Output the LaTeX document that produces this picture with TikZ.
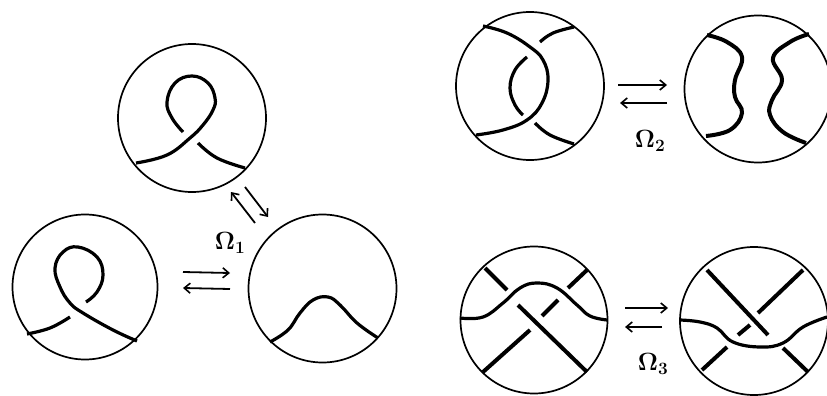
\documentclass[tikz,border=0pt]{standalone}
\usetikzlibrary{arrows.meta}

\begin{document}
\begin{tikzpicture}[
  x=1pt,y=-1pt,
  >={Straight Barb[length=6pt,width=10pt,line width=1.6pt]},
  disc/.style={circle,draw,line width=1.7pt,inner sep=0pt},
  strand/.style={line width=4pt,smooth,tension=0.7},
  thin strand/.style={line width=3.2pt,smooth,tension=0.7},
  arr/.style={->,line width=1.8pt},
  move/.style={font=\fontsize{24}{24}\selectfont\boldmath,inner sep=0pt},
]
\useasboundingbox (0,0) rectangle (827,396);

% move one
\node[disc,minimum size=148pt] (loopa) at (192,118) {};
\node[disc,minimum size=145pt] (loopb) at (85,287) {};
\node[disc,minimum size=148pt] (bump) at (322.5,288.5) {};
\draw[thin strand] plot coordinates {(136,163) (167,155) (190,138) (203,125) (213,110) (215,98) (208,83) (192,76) (175,83) (167,102) (172,118) (183,132)};
\draw[thin strand] plot coordinates {(198,143) (217,158) (245,168)};
\draw[thin strand] plot coordinates {(27,334) (50,328) (70,317)};
\draw[thin strand] plot coordinates {(137,341) (113,330) (83,313) (70,303) (60,287) (55,268) (63,252) (78,247) (97,257) (103,275) (97,292) (86,302)};
\draw[thin strand] plot coordinates {(270,342) (288,330) (300,313) (313,300) (328,297) (340,305) (357,323) (378,338)};

% move two
\node[disc,minimum size=148pt] (claspa) at (530,86) {};
\node[disc,minimum size=147pt] (claspb) at (758,89) {};
\draw[thin strand] plot coordinates {(483,26) (507,33) (530,47) (543,60) (548,80) (542,103) (527,120) (503,130) (476,135)};
\draw[thin strand] plot coordinates {(540,42) (553,33) (574,27)};
\draw[thin strand] plot coordinates {(527,57) (515,70) (510,88) (515,105) (523,115)};
\draw[thin strand] plot coordinates {(535,123) (550,135) (574,144)};
\draw[strand] plot coordinates {(707,35) (727,42) (742,57) (735,80) (735,97) (742,113) (730,130) (706,136)};
\draw[strand] plot coordinates {(809,34) (790,42) (773,58) (782,80) (772,100) (770,115) (783,132) (806,143)};

% move three
\node[disc,minimum size=147pt] (triplea) at (534,320) {};
\node[disc,minimum size=148pt] (tripleb) at (754,321) {};
\draw[thin strand] plot coordinates {(460,318) (483,317) (503,303) (520,288) (537,283) (557,288) (577,305) (590,316) (607,320)};
\draw[strand] (485,268) -- (507,290);
\draw[strand] (518,305) -- (587,372);
\draw[strand] (587,270) -- (568,288);
\draw[strand] (558,300) -- (542,316);
\draw[strand] (530,330) -- (483,372);
\draw[thin strand] plot coordinates {(680,320) (700,322) (717,328) (733,342) (760,347) (783,343) (803,327) (827,317)};
\draw[strand] (707,270) -- (768,335);
\draw[strand] (803,270) -- (758,313);
\draw[strand] (750,325) -- (738,335);
\draw[strand] (727,347) -- (702,370);
\draw[strand] (783,348) -- (808,372);

% arrows
\coordinate (oneh1) at (183,272); \coordinate (oneh2) at (230,273);
\coordinate (oneh3) at (230,289); \coordinate (oneh4) at (183,288);
\coordinate (oned1) at (255,223); \coordinate (oned2) at (231,192);
\coordinate (oned3) at (245,187); \coordinate (oned4) at (268,217);
\coordinate (two1) at (618,85); \coordinate (two2) at (667,85);
\coordinate (two3) at (667,103); \coordinate (two4) at (620,103);
\coordinate (three1) at (625,308); \coordinate (three2) at (668,308);
\coordinate (three3) at (662,327); \coordinate (three4) at (625,327);
\draw[arr] (oneh1) -- (oneh2);
\draw[arr] (oneh3) -- (oneh4);
\draw[arr] (oned1) -- (oned2);
\draw[arr] (oned3) -- (oned4);
\draw[arr] (two1) -- (two2);
\draw[arr] (two3) -- (two4);
\draw[arr] (three1) -- (three2);
\draw[arr] (three3) -- (three4);

\node[move] (omegaa) at (230,243) {$\Omega_1$};
\node[move] (omegab) at (650,141) {$\Omega_2$};
\node[move] (omegac) at (653,364) {$\Omega_3$};

\end{tikzpicture}
\end{document}
